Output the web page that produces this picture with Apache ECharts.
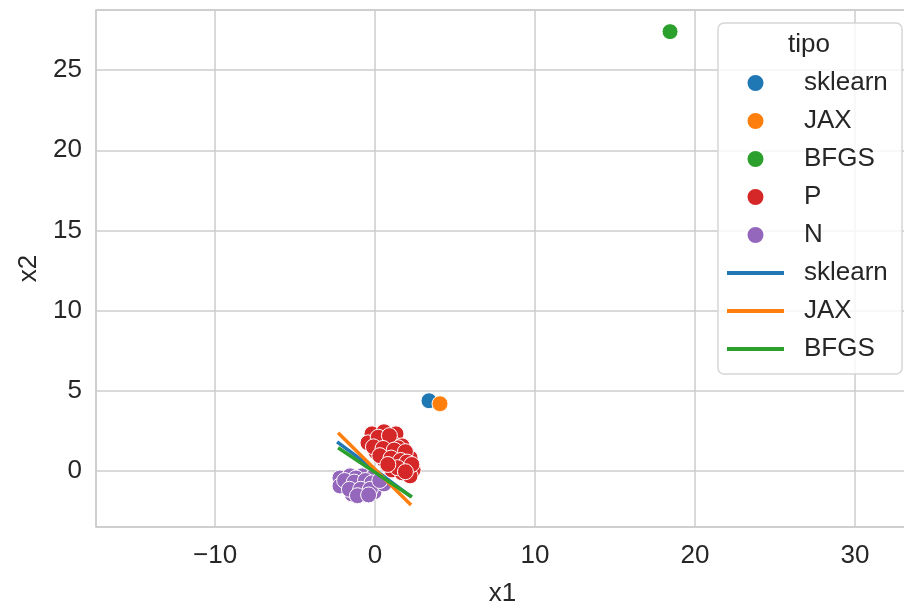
<!DOCTYPE html>
<html>
<head>
<meta charset="utf-8">
<script src="https://cdn.jsdelivr.net/npm/echarts@6/dist/echarts.min.js"></script>
<style>html,body{margin:0;padding:0;background:#fff}#c{width:904px;height:608px}</style>
</head>
<body>
<div id="c"></div>
<script>
// ---- data ----
const sklearnPoint = [[3.375, 4.375]];
const jaxPoint = [[4.06, 4.19]];
const bfgsPoint = [[18.44, 27.4]];
const pPoints = [
  [-0.19, 2.31], [0.56, 2.44], [1.31, 2.31], [-0.44, 1.75], [0.31, 1.81],
  [1.06, 1.75], [1.69, 1.56], [0.06, 1.19], [0.81, 1.19], [1.56, 1.06],
  [2.19, 0.81], [0.56, 0.69], [1.25, 0.56], [1.94, 0.31], [2.38, 0.06],
  [1.06, 0.06], [1.69, -0.12], [2.19, -0.31], [1.44, 1.44], [0.69, 1.94],
  [0.2, 2.1], [0.9, 2.2], [-0.1, 1.5], [0.5, 1.4], [1.2, 1.3],
  [1.9, 1.2], [0.3, 0.95], [1.0, 0.8], [1.6, 0.65], [2.0, 0.55],
  [1.4, 0.2], [2.3, 0.4], [1.9, -0.05], [0.8, 0.4]
];
const nPoints = [
  [-2.19, -0.44], [-1.56, -0.31], [-0.81, -0.31], [-0.19, -0.44], [-1.88, -1.0],
  [-1.12, -0.88], [-0.44, -0.94], [0.19, -0.94], [-1.44, -1.44], [-0.69, -1.44],
  [-0.06, -1.31], [-2.19, -0.94], [-1.19, -0.44], [0.56, -0.81],
  [-1.9, -0.6], [-1.3, -0.7], [-0.6, -0.6], [-0.2, -0.75], [-1.6, -1.15],
  [-0.9, -1.15], [-0.3, -1.15], [-1.1, -1.55], [-0.4, -1.5], [0.3, -0.6]
];
const sklearnLine = [[-2.37, 1.81], [2.25, -1.6]];
const jaxLine = [[-2.31, 2.375], [2.25, -2.125]];
const bfgsLine = [[-2.31, 1.44], [2.31, -1.63]];
const legendTitle = 'tipo';
const xName = 'x1';
const yName = 'x2';

const C = {blue:'#1f77b4', orange:'#ff7f0e', green:'#2ca02c', red:'#d62728', purple:'#9467bd'};
const FONT = 'Liberation Sans';
const TXT = '#262626';
const GRID = '#cccccc';
const FS = 26;

function sc(name, data, color) {
  return {type:'scatter', name, data, symbolSize:16, z:2,
    itemStyle:{color, borderColor:'#fff', borderWidth:1, opacity:1}, emphasis:{disabled:true}};
}
function ln(name, data, color) {
  return {type:'line', name, data, symbol:'none', z:5, silent:true,
    lineStyle:{color, width:3.5}, itemStyle:{color}};
}
const linePath = 'path://M0,0H57V4H0Z';
const minusFmt = v => String(v).replace('-', '\u2212');

const chart = echarts.init(document.getElementById('c'), null, {renderer:'canvas'});
chart.setOption({
  animation:false,
  backgroundColor:'#fff',
  textStyle:{fontFamily:FONT},
  grid:{left:96, top:10, bottom:81, right:-5, show:true, borderColor:GRID, borderWidth:1.5,
    containLabel:false, outerBoundsMode:'none'},
  xAxis:{type:'value', min:-17.44, max:33.375, name:xName, nameLocation:'middle', nameGap:54,
    nameTextStyle:{fontSize:FS, color:TXT, fontFamily:FONT},
    axisLine:{show:false}, axisTick:{show:false},
    axisLabel:{fontSize:FS, color:TXT, fontFamily:FONT, margin:16, showMinLabel:false, showMaxLabel:false, formatter:minusFmt},
    splitLine:{show:true, lineStyle:{color:GRID, width:1.5}}},
  yAxis:{type:'value', min:-3.5, max:28.75, name:yName, nameLocation:'middle', nameGap:54,
    nameTextStyle:{fontSize:FS, color:TXT, fontFamily:FONT},
    axisLine:{show:false}, axisTick:{show:false},
    axisLabel:{fontSize:FS, color:TXT, fontFamily:FONT, margin:14, showMinLabel:false, showMaxLabel:false, formatter:minusFmt},
    splitLine:{show:true, lineStyle:{color:GRID, width:1.5}}},
  legend:{orient:'vertical', left:718, top:23, padding:[47, 7, 12, 9],
    itemWidth:57, itemHeight:18, itemGap:12, symbolKeepAspect:true,
    backgroundColor:'rgba(255,255,255,0.8)', borderColor:'#d6d6d6', borderWidth:1.5, borderRadius:6,
    textStyle:{fontSize:FS, color:TXT, fontFamily:FONT, lineHeight:26, padding:[0,0,0,15]},
    selectedMode:false,
    data:[
      {name:'sklearn', icon:'circle'},
      {name:'JAX', icon:'circle'},
      {name:'BFGS', icon:'circle'},
      {name:'P', icon:'circle'},
      {name:'N', icon:'circle'},
      {name:'sklearn ', icon:linePath, itemStyle:{color:C.blue}},
      {name:'JAX ', icon:linePath, itemStyle:{color:C.orange}},
      {name:'BFGS ', icon:linePath, itemStyle:{color:C.green}}
    ]},
  graphic:[{type:'text', x:809, y:45, z:100, zlevel:0,
    style:{text:legendTitle, textAlign:'center', textVerticalAlign:'middle', fontSize:FS, fontFamily:FONT, fill:TXT}}],
  series:[
    sc('sklearn', sklearnPoint, C.blue),
    sc('JAX', jaxPoint, C.orange),
    sc('BFGS', bfgsPoint, C.green),
    sc('P', pPoints, C.red),
    sc('N', nPoints, C.purple),
    ln('sklearn ', sklearnLine, C.blue),
    ln('JAX ', jaxLine, C.orange),
    ln('BFGS ', bfgsLine, C.green)
  ]
});
</script>
</body>
</html>
